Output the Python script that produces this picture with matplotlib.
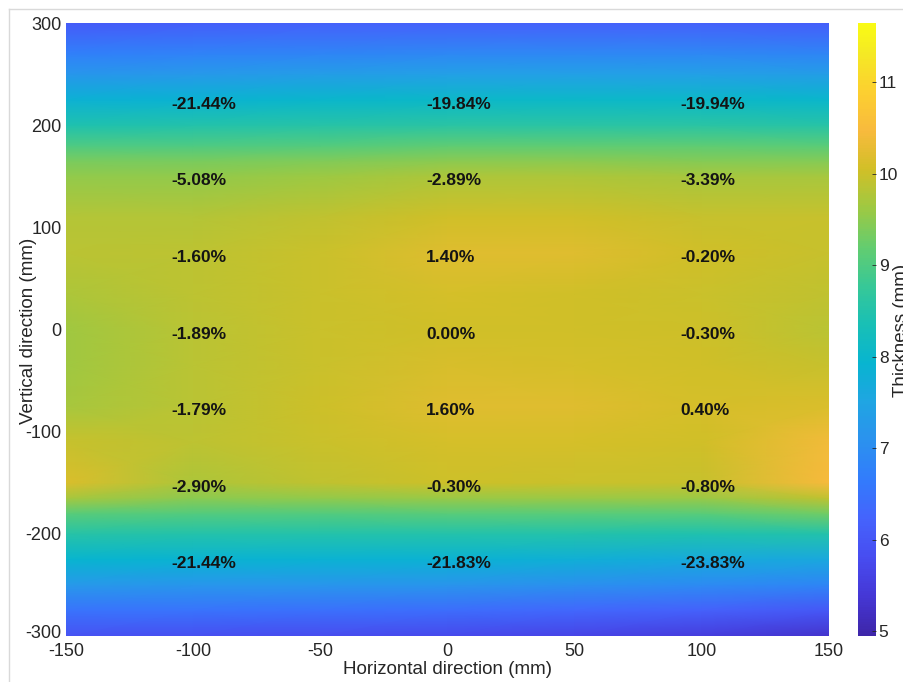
import numpy as np
import matplotlib
matplotlib.use("Agg")
import matplotlib.pyplot as plt
from matplotlib.colors import LinearSegmentedColormap
from matplotlib.lines import Line2D
from matplotlib.transforms import ScaledTranslation

# ---------------- data ----------------
x_mm = [-150, -100, -50, 0, 50, 100, 150]
y_mm = [-300, -275, -250, -225, -200, -180, -165, -150, -110, -75, -35, 0,
        35, 75, 110, 150, 165, 180, 200, 225, 250, 270, 300]

# thickness (mm), one row per y_mm value (bottom to top), columns follow x_mm
thick_rows = [
    [5.90, 5.85, 5.80, 5.75, 5.65, 5.50, 5.30],   # -300
    [6.50, 6.50, 6.45, 6.40, 6.30, 6.20, 6.00],   # -275
    [7.25, 7.20, 7.20, 7.15, 7.05, 6.95, 6.85],   # -250
    [7.95, 7.90, 7.88, 7.86, 7.80, 7.66, 7.60],   # -225
    [8.55, 8.50, 8.50, 8.50, 8.50, 8.45, 8.50],   # -200
    [9.10, 9.05, 9.05, 9.10, 9.10, 9.10, 9.30],   # -180
    [9.70, 9.50, 9.55, 9.60, 9.60, 9.60, 9.90],   # -165
    [10.15, 9.76, 9.90, 10.02, 10.00, 9.97, 10.45],  # -150
    [9.95, 9.88, 9.98, 10.10, 10.08, 10.05, 10.40],  # -110
    [9.70, 9.87, 10.02, 10.21, 10.20, 10.09, 10.15],  # -75
    [9.65, 9.86, 10.00, 10.12, 10.10, 10.05, 9.95],   # -35
    [9.65, 9.86, 9.98, 10.05, 10.03, 10.02, 9.85],    # 0
    [9.75, 9.88, 10.00, 10.08, 10.05, 10.00, 9.90],   # 35
    [9.85, 9.89, 10.00, 10.19, 10.20, 10.03, 9.95],   # 75
    [9.80, 9.80, 9.90, 10.05, 10.05, 9.95, 9.95],     # 110
    [9.55, 9.54, 9.62, 9.76, 9.75, 9.71, 9.70],       # 150
    [9.35, 9.35, 9.40, 9.50, 9.50, 9.45, 9.45],       # 165
    [9.00, 9.00, 9.05, 9.15, 9.15, 9.15, 9.10],       # 180
    [8.45, 8.50, 8.55, 8.60, 8.60, 8.60, 8.55],       # 200
    [7.85, 7.90, 8.00, 8.06, 8.06, 8.05, 8.00],       # 225
    [7.20, 7.25, 7.35, 7.40, 7.40, 7.40, 7.35],       # 250
    [6.75, 6.80, 6.85, 6.90, 6.90, 6.90, 6.85],       # 270
    [6.05, 6.15, 6.20, 6.20, 6.20, 6.20, 6.15],       # 300
]

label_x = [-100, 0, 100]
label_y = [225, 150, 75, 0, -75, -150, -225]
pct_labels = [
    ["-21.44%", "-19.84%", "-19.94%"],
    ["-5.08%", "-2.89%", "-3.39%"],
    ["-1.60%", "1.40%", "-0.20%"],
    ["-1.89%", "0.00%", "-0.30%"],
    ["-1.79%", "1.60%", "0.40%"],
    ["-2.90%", "-0.30%", "-0.80%"],
    ["-21.44%", "-21.83%", "-23.83%"],
]

x_ticks = [-150, -100, -50, 0, 50, 100, 150]
y_ticks = [-300, -200, -100, 0, 100, 200, 300]
cbar_ticks = [5, 6, 7, 8, 9, 10, 11]
clim = (4.95, 11.65)

# ---------------- style ----------------
parula_idx = [1, 5, 9, 13, 17, 21, 25, 29, 33, 37, 41, 45, 49, 53, 57, 61, 64]
parula_rgb = [
    (0.2422, 0.1504, 0.6603), (0.2706, 0.2147, 0.8364), (0.2813, 0.3006, 0.9414),
    (0.2699, 0.3892, 0.9906), (0.1963, 0.4847, 0.9892), (0.1687, 0.5703, 0.9359),
    (0.1248, 0.6459, 0.8883), (0.0297, 0.7082, 0.8163), (0.0964, 0.7500, 0.7120),
    (0.2161, 0.7843, 0.5923), (0.3909, 0.8029, 0.4354), (0.6174, 0.7876, 0.2612),
    (0.8203, 0.7498, 0.1535), (0.9728, 0.7298, 0.2394), (0.9892, 0.8136, 0.1885),
    (0.9597, 0.9135, 0.1423), (0.9769, 0.9839, 0.0805),
]
parula = LinearSegmentedColormap.from_list(
    "parula", [((i - 1) / 63.0, c) for i, c in zip(parula_idx, parula_rgb)], N=256)

plt.rcParams['font.family'] = ['Liberation Sans', 'DejaVu Sans']
plt.rcParams['axes.unicode_minus'] = False
txt_gray = (0.15, 0.15, 0.15)

W, H = 904, 682
fig = plt.figure(figsize=(W / 100, H / 100), dpi=100)
fig.patch.set_facecolor('white')

ax = fig.add_axes([66 / W, (H - 636) / H, 763 / W, 613 / H])
X, Y = np.meshgrid(np.array(x_mm, float), np.array(y_mm, float))
Z = np.array(thick_rows, float)
mesh = ax.pcolormesh(X, Y, Z, cmap=parula, vmin=clim[0], vmax=clim[1],
                     shading='gouraud', rasterized=True)
ax.set_xlim(-150, 150)
ax.set_ylim(-300, 300)
ax.set_xticks(x_ticks)
ax.set_yticks(y_ticks)
ax.tick_params(length=0, labelsize=13, colors=txt_gray)
ax.tick_params(axis='x', pad=5)
ax.tick_params(axis='y', pad=3)
for s in ax.spines.values():
    s.set_visible(False)

# lift lowest y tick label slightly (as in reference)
ylabs = ax.get_yticklabels()
ylabs[0].set_transform(ylabs[0].get_transform() +
                       ScaledTranslation(0, 5 / 100, fig.dpi_scale_trans))

for r, yv in enumerate(label_y):
    for c, xv in enumerate(label_x):
        ax.text(xv - 8.5, yv - 4.5, pct_labels[r][c], ha='left', va='center',
                fontsize=12.5, fontweight='bold', color=(0.08, 0.08, 0.08))

fig.text(448 / W, 1 - 669 / H, "Horizontal direction (mm)", ha='center',
         va='center', fontsize=13.5, color=txt_gray)
fig.text(29 / W, 1 - 331 / H, "Vertical direction (mm)", ha='center',
         va='center', rotation=90, fontsize=13.5, color=txt_gray)

cax = fig.add_axes([858 / W, (H - 636) / H, 18 / W, 613 / H])
cb = fig.colorbar(mesh, cax=cax, ticks=cbar_ticks)
cb.outline.set_visible(False)
cax.tick_params(direction='in', length=3, width=0.6, labelsize=12.5,
                colors=txt_gray, pad=2)
fig.text(902 / W, 1 - 330 / H, "Thickness (mm)", ha='center', va='center',
         rotation=90, fontsize=13.5, color=txt_gray)

# light screenshot frame
frame_c = (0.85, 0.85, 0.85)
fig.add_artist(Line2D([9 / W, 1], [1 - 9 / H, 1 - 9 / H], color=frame_c, lw=1,
                      transform=fig.transFigure))
fig.add_artist(Line2D([9 / W, 9 / W], [0, 1 - 9 / H], color=frame_c, lw=1,
                      transform=fig.transFigure))

fig.savefig("out.png", dpi=100)
